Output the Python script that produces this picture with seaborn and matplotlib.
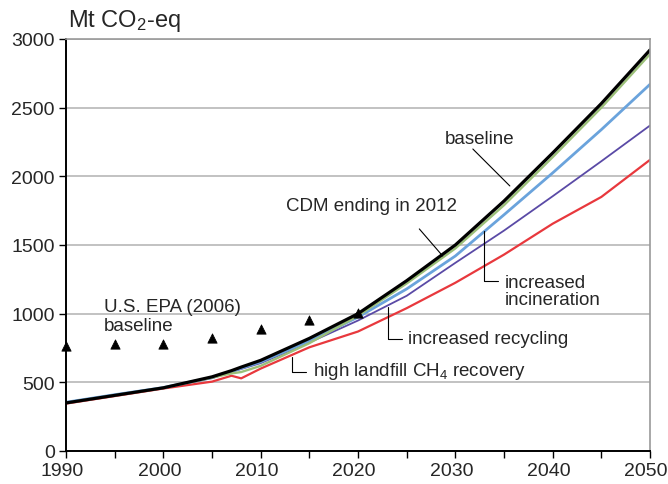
import matplotlib
matplotlib.use("Agg")
import matplotlib.pyplot as plt
import matplotlib.transforms as mtransforms
import seaborn as sns
import numpy as np

# values (Mt CO2-eq)
years = [1990, 1995, 2000, 2005, 2007, 2008, 2010, 2015, 2020, 2025, 2030, 2035, 2040, 2045, 2050]
baseline = [350, 405, 460, 540, 585, 611, 660, 820, 1000, 1240, 1500, 1820, 2170, 2530, 2920]
cdm_2012 = [350, 405, 460, 535, 565, 575, 620, 785, 985, 1220, 1475, 1790, 2140, 2500, 2890]
incineration = [355, 410, 462, 535, 580, 603, 650, 800, 975, 1180, 1420, 1720, 2025, 2340, 2670]
recycling = [352, 407, 460, 530, 575, 597, 640, 790, 950, 1130, 1370, 1605, 1855, 2110, 2370]
landfill = [345, 400, 455, 505, 548, 529, 600, 755, 870, 1040, 1225, 1430, 1655, 1850, 2120]

epa_years = [1990, 1995, 2000, 2005, 2010, 2015, 2020]
epa_values = [765, 780, 780, 820, 885, 955, 1005]

sns.set_style("white")
plt.rcParams['font.family'] = ['Liberation Sans', 'DejaVu Sans']
plt.rcParams['mathtext.default'] = 'regular'

fig = plt.figure(figsize=(6.68, 4.85), dpi=100)
ax = fig.add_axes([66 / 668, 33 / 485, 584 / 668, 412 / 485])

# draw order: bottom series first, baseline on top
series = [
    (landfill, '#e8383d', 1.6),
    (recycling, '#5a4aa6', 1.3),
    (incineration, '#6aa3dc', 2.0),
    (cdm_2012, '#9bbf78', 1.7),
    (baseline, '#000000', 2.3),
]
for vals, col, lw in series:
    sns.lineplot(x=years, y=vals, color=col, linewidth=lw, ax=ax)

sns.scatterplot(x=epa_years, y=epa_values, marker='^', color='black', s=45,
                edgecolor='black', ax=ax, zorder=5, clip_on=False)

ax.set_xlim(1990, 2050)
ax.set_ylim(0, 3000)
ax.set_xticks(range(1990, 2051, 10))
ax.set_xticks(range(1995, 2050, 10), minor=True)
ax.set_yticks(range(0, 3001, 500))
ax.tick_params(axis='both', which='both', direction='out', length=5, width=1,
               color='black', labelsize=14, pad=3, left=True, bottom=True)
ax.set_xlabel('')
ax.set_ylabel('')

# nudge x labels a little left so "2050" stays inside the figure
shift = mtransforms.ScaledTranslation(-4 / 100, 0, fig.dpi_scale_trans)
for lbl in ax.get_xticklabels():
    lbl.set_transform(lbl.get_transform() + shift)

ax.grid(axis='y', color='#b8b8b8', linewidth=1.2)
ax.set_axisbelow(True)
for side in ['left', 'bottom']:
    ax.spines[side].set_color('black')
    ax.spines[side].set_linewidth(1.4)
for side in ['top', 'right']:
    ax.spines[side].set_color('#999999')
    ax.spines[side].set_linewidth(1.2)

fig.text(68 / 668, 1 - 21 / 485, 'Mt CO$_2$-eq', fontsize=17, va='center', ha='left')

fs = 13.5
ax.text(2028.9, 2272, 'baseline', fontsize=fs, va='center', ha='left')
ax.plot([2031.8, 2035.6], [2199, 1930], color='black', lw=0.8)

ax.text(2021.4, 1784, 'CDM ending in 2012', fontsize=fs, va='center', ha='center')
ax.plot([2026.3, 2028.7], [1617, 1420], color='black', lw=0.8)

ax.text(2035.1, 1165, 'increased\nincineration', fontsize=fs, va='center', ha='left',
        linespacing=1.05)
ax.plot([2032.95, 2032.95, 2034.4], [1602, 1238, 1238], color='black', lw=0.8)

ax.text(2025.1, 816, 'increased recycling', fontsize=fs, va='center', ha='left')
ax.plot([2023.1, 2023.1, 2024.5], [1049, 816, 816], color='black', lw=0.8)

ax.text(2015.4, 583, 'high landfill CH$_4$ recovery', fontsize=fs, va='center', ha='left')
ax.plot([2013.2, 2013.2, 2014.7], [685, 575, 575], color='black', lw=0.8)

ax.text(1993.9, 983, 'U.S. EPA (2006)\nbaseline', fontsize=fs, va='center', ha='left',
        linespacing=1.1)

fig.savefig('out.png', dpi=100)
